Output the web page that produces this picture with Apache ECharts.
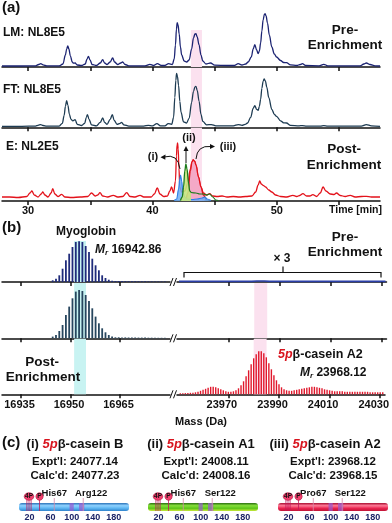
<!DOCTYPE html>
<html>
<head>
<meta charset="utf-8">
<title>β-casein enrichment: LC traces and deconvoluted spectra</title>
<script src="https://cdn.jsdelivr.net/npm/echarts@6/dist/echarts.min.js"></script>
<style>
  html, body { margin: 0; padding: 0; background: #fff; }
  #chart { width: 392px; height: 523px; }
</style>
</head>
<body>
<div id="chart"></div>
<script>
// ---------- (a) chromatograms, [time (min), intensity] ----------
const lmTrace = [[27.9,1],[29.5,1],[30.6,1.2],[30.85,2.5],[31.02,3.3],[31.2,2.2],[31.5,1.2],[32.5,1.2],[32.8,3],[33.0,12],[33.1,18],[33.19,21],[33.28,18],[33.4,11],[33.55,5],[33.65,3.8],[33.78,4],[33.95,2],[34.3,1.5],[34.6,3],[34.72,7.5],[34.85,10.7],[34.98,7],[35.15,2.5],[35.5,1.5],[35.8,4],[36.0,7.3],[36.15,4],[36.35,2.5],[36.6,5],[36.8,9],[36.95,5],[37.2,2.5],[37.45,4],[37.6,5],[37.8,2.5],[38.1,1.2],[39.4,1.2],[39.8,2.7],[40.1,1.5],[40.4,3.3],[40.7,1.5],[41.0,1.5],[41.3,3.3],[41.6,2.5],[41.75,8],[41.85,22],[41.93,38],[41.99,44.3],[42.06,42],[42.15,33],[42.25,20],[42.35,12],[42.55,6],[42.75,5],[42.95,7],[43.15,18],[43.3,29],[43.42,33],[43.5,33.3],[43.6,30],[43.75,22],[43.9,12],[44.05,6],[44.3,3],[44.67,4],[45.0,1.8],[46.0,1.5],[46.6,1.5],[46.9,3.3],[47.2,2],[47.5,3],[47.7,5],[47.95,10],[48.1,18],[48.23,22.3],[48.38,17],[48.5,13.3],[48.6,16],[48.7,24],[48.8,36],[48.9,47],[49.0,52.5],[49.06,53.3],[49.14,51],[49.25,44],[49.4,32],[49.6,20],[49.8,13],[49.98,10],[50.3,6.5],[50.55,4.5],[50.78,4.3],[51.1,2.2],[51.6,1.5],[51.9,2.5],[52.06,3.3],[52.3,1.5],[53.4,1.2],[53.78,2.7],[54.1,1.2],[56.7,1.2],[57.0,3],[57.2,4],[57.5,2.5],[57.9,1.2],[58.3,1]];
const ftTrace = [[27.9,1],[29.5,1],[30.6,1.2],[30.8,2],[31.0,2.7],[31.2,1.8],[31.5,1.2],[32.5,1.2],[32.75,4],[32.9,12],[33.0,21],[33.1,26.7],[33.2,22],[33.32,13],[33.45,8],[33.6,6.5],[33.78,7.7],[33.95,3],[34.3,1.8],[34.55,4],[34.68,10],[34.77,12.7],[34.9,8],[35.1,2.5],[35.5,1.5],[35.8,5],[36.0,9.3],[36.15,5],[36.35,3],[36.6,8],[36.77,12.7],[36.92,7],[37.15,3],[37.4,4],[37.52,5],[37.7,2.5],[38.1,1.2],[39.3,1.2],[39.67,2],[40.0,1.5],[40.35,3.7],[40.65,1.5],[41.0,1.5],[41.27,3.7],[41.55,3],[41.7,10],[41.8,30],[41.88,47],[41.94,54],[42.01,51],[42.1,42],[42.2,26],[42.3,15],[42.5,5.5],[42.74,4.3],[42.95,9],[43.15,25],[43.3,36],[43.42,40.5],[43.5,41],[43.6,37],[43.75,26],[43.9,13],[44.05,6],[44.35,2.5],[44.74,2.7],[45.1,1.5],[46.5,1.5],[46.9,2.7],[47.2,2],[47.45,3],[47.65,4.3],[47.9,10],[48.1,19],[48.23,21.7],[48.38,18],[48.5,17],[48.6,21],[48.7,28],[48.8,39],[48.9,46],[48.98,48.3],[49.08,46.5],[49.2,40],[49.35,30],[49.6,18],[49.8,13],[49.98,11],[50.3,6.5],[50.55,4.5],[50.78,4.3],[51.1,2],[51.8,1.5],[52.06,1.7],[52.4,1.2],[53.5,1.2],[53.78,1.7],[54.1,1.2],[56.8,1.2],[57.2,2.7],[57.6,1.5],[58.3,1]];
const eTrace = [[27.9,4],[28.5,4],[29.2,3.5],[29.9,4.5],[30.15,8],[30.3,10],[30.5,6],[30.8,4],[31.05,7],[31.18,9],[31.35,6],[31.6,4],[31.85,8],[31.98,12.3],[32.15,7],[32.4,4.5],[32.7,6.7],[32.95,4],[33.5,3.5],[34.2,4],[34.8,4.5],[35.1,8],[35.4,5],[35.6,6],[35.78,8.3],[36.0,5],[36.4,4],[36.85,5.7],[37.2,4],[37.6,4.5],[37.93,8.3],[38.2,4.5],[38.6,4],[39.0,5.7],[39.3,4],[39.9,4],[40.15,7],[40.39,13],[40.6,7],[40.9,4.5],[41.2,5],[41.4,10],[41.54,14],[41.7,8],[41.85,20],[41.93,45],[41.98,56],[42.02,58],[42.07,52],[42.13,33],[42.2,14],[42.35,9],[42.6,10],[42.85,18],[43.05,32],[43.18,39],[43.28,41],[43.4,39.5],[43.5,36],[43.7,24],[43.9,14],[44.1,8],[44.35,6],[44.6,7.3],[44.85,5],[45.2,4.5],[45.6,5],[46.0,4],[46.5,4.5],[47.0,4],[47.5,4.5],[48.0,5],[48.3,9],[48.5,16],[48.63,20],[48.75,17],[48.9,15.7],[49.1,14],[49.35,11],[49.6,9],[49.9,6],[50.3,4.5],[50.8,4],[51.3,5.7],[51.6,4.5],[51.85,5.5],[52.1,7.3],[52.4,5],[52.65,5],[52.9,6.3],[53.2,4.5],[53.5,8],[53.72,14],[53.95,10],[54.3,7],[54.6,6.5],[54.8,8],[55.1,5.5],[55.5,4.5],[55.9,5.7],[56.3,4],[56.8,4.5],[57.2,4.7],[57.6,4],[58.3,4]];
const peakI = [[41.75,0.5],[41.95,2],[42.1,12],[42.2,22],[42.26,26],[42.35,20],[42.45,9],[42.6,4],[42.8,2],[43.2,1.5],[43.6,2],[44.0,3],[44.2,4],[44.4,2],[44.7,0.5]];
const peakII = [[42.25,0.5],[42.4,4],[42.5,14],[42.6,30],[42.69,37],[42.78,32],[42.9,18],[43.0,10],[43.1,8.5]];
const peakIITail = [[43.1,8.5],[43.5,8],[43.8,7],[44.1,7],[44.35,6],[44.6,7],[44.85,4],[45.1,1],[45.3,0.5]];
const peakIII = [[42.7,0.5],[42.85,8],[43.05,30],[43.18,39],[43.28,41],[43.4,39.5],[43.5,36],[43.7,24],[43.9,14],[44.1,6],[44.3,1]];
const timeTicks = [30, 35, 40, 45, 50, 55];
const timeLabels = [30, 40, 50];
const pinkTime = [43.09, 43.98];

// ---------- (b) deconvoluted spectra, mass (Da) and intensity ----------
const myoMass = [16944.6,16945.6,16946.6,16947.6,16948.6,16949.6,16950.6,16951.6,16952.6,16953.6,16954.6,16955.6,16956.6,16957.6,16958.6,16959.6,16960.6,16961.6,16962.6,16963.6,16964.6,16965.6,16966.6,16967.6,16968.6,16969.6,16970.6,16971.6,16972.6,16973.6,16974.6,16975.6,16976.6,16977.6,16978.6];
const myoPre = [1.7,3.3,6.7,13.3,21.7,28.3,35,40,40.7,40,36,30,23.3,16.7,11.7,6.7,4,2.3,1.3,1,1,0.9,0.9,0.8,0.8,0.8,0.7,0.7,0.7,0.6,0.6,0.6,0.5,0.5,0.5];
const myoFt = [1.7,3.3,7.3,13.3,23.3,31.7,40,46.7,48.3,47.3,43.3,37.3,30,21.7,15,10,6,3.3,1.7,1,1,0.9,0.9,0.8,0.8,0.8,0.7,0.7,0.7,0.6,0.6,0.6,0.5,0.5,0.5];
const casMass = [23951,23952,23953,23954,23955,23956,23957,23958,23959,23960,23961,23962,23963,23964,23965,23966,23967,23968,23969,23970,23971,23972,23973,23974,23975,23976,23977,23978,23979,23980,23981,23982,23983,23984,23985,23986,23987,23988,23989,23990,23991,23992,23993,23994,23995,23996,23997,23998,23999,24000,24001,24002,24003,24004,24005,24006,24007,24008,24009,24010,24011,24012,24013,24014,24015,24016,24017,24018,24019,24020,24021,24022,24023,24024,24025,24026,24027,24028,24029,24030,24031];
const casPost = [1,1,1.2,1.2,1.5,1.5,2,2.5,3.5,4.5,5.5,6.5,7.5,7.5,7,6,5,4,3,2.5,2.5,3,4,6,9,13,18,24,30,36,40,43,43,41,37,31,25,19,14,10,7,5,4,3.5,3.5,4,4.5,5,5.5,6,6.5,7,7.5,7.5,7,6.5,6,5,4.5,4,3.5,3,3,3,3,2.5,2.5,2.5,2.5,2.5,2.5,2.5,2.5,2.5,2.5,2,2,2,2,2,2];
const casPreX3 = [[23950.5,0.6],[23979,0.6],[23981,1],[23984,1],[23986,0.6],[24031.5,0.6]];
const massTicksLeft = [16935, 16950, 16965];
const massTicksRight = [23970, 23990, 24010, 24030];
const cyanMass = [16951.1, 16954.7];
const pinkMass = [23980.0, 23985.1];

// ---------- (c) β-casein variants ----------
const variantTag = ['(i)', '(ii)', '(iii)'];
const variantName = ['B', 'A1', 'A2'];
const exptMass = ['24077.14', '24008.11', '23968.12'];
const calcMass = ['24077.23', '24008.16', '23968.15'];
const residueTicks = [20, 60, 100, 140, 180];
const proteinLength = 209;
const phosphoPos = [19, 39];
const phosphoLabel = ['4P', 'P'];
const phosphoStems = [[15, 19, 23], [39]];
const domainBands = [[96, 104], [114, 124]];
const variantPos = [67, 122];
const variantLabel = [['His67', 'Arg122'], ['His67', 'Ser122'], ['Pro67', 'Ser122']];

const FONT = '"Liberation Sans", Arial, Helvetica, sans-serif';
const chart = echarts.init(document.getElementById('chart'));

const pairs = (xs, ys) => xs.map((x, i) => [x, ys[i]]);

function txt(x, y, text, size, align, extra) {
  return {
    type: 'text', x: x, y: y, z: 60,
    style: Object.assign({
      text: text, font: 'bold ' + size + 'px ' + FONT, fill: '#111',
      align: align || 'left', verticalAlign: 'middle'
    }, extra || {})
  };
}

// grids: 0-2 panel a, 3-8 panel b (row x left/right), 9-11 panel c
const grids = [
  { left: 2, width: 378, top: 12, height: 55 },
  { left: 2, width: 378, top: 68, height: 59.3 },
  { left: 2, width: 378, top: 128, height: 73 },
  { left: 2, width: 168, top: 236, height: 46 },
  { left: 177, width: 209.5, top: 236, height: 46 },
  { left: 2, width: 168, top: 283, height: 55.3 },
  { left: 177, width: 209.5, top: 283, height: 55.3 },
  { left: 2, width: 168, top: 339, height: 55.3 },
  { left: 177, width: 209.5, top: 339, height: 55.3 },
  { left: 19, width: 111.6, top: 503, height: 8 },
  { left: 148, width: 111.6, top: 503, height: 8 },
  { left: 278, width: 111.6, top: 503, height: 8 }
];

const axisStyle = { show: true, onZero: false, lineStyle: { color: '#111', width: 1.5 } };
const tickStyle = (vals) => ({ show: true, length: 4, inside: false, customValues: vals, lineStyle: { color: '#111', width: 1.5 } });
const plain = (v) => String(v);

const xAxes = [];
for (let g = 0; g < 3; g++) {
  xAxes.push({
    gridIndex: g, type: 'value', min: 27.9, max: 58.3,
    axisLine: axisStyle, axisTick: tickStyle(timeTicks), splitLine: { show: false },
    axisLabel: { show: g === 2, customValues: timeLabels, formatter: plain, margin: 4, color: '#111', fontWeight: 'bold', fontSize: 11, fontFamily: FONT }
  });
}
for (let row = 0; row < 3; row++) {
  [[16929.24, 16980.15, massTicksLeft, [0, 3, 0, 0]], [23949.7, 24031.9, massTicksRight, [0, 13, 0, 0]]].forEach((r, side) => {
    xAxes.push({
      gridIndex: 3 + row * 2 + side, type: 'value', min: r[0], max: r[1],
      axisLine: axisStyle, axisTick: tickStyle(r[2]), splitLine: { show: false },
      axisLabel: { show: row === 2, customValues: r[2], formatter: plain, margin: 5, padding: r[3], color: '#111', fontWeight: 'bold', fontSize: 11, fontFamily: FONT }
    });
  });
}
for (let p = 0; p < 3; p++) {
  xAxes.push({
    gridIndex: 9 + p, type: 'value', min: 0, max: 212,
    axisLine: { show: false }, axisTick: { show: false }, splitLine: { show: false },
    axisLabel: { show: true, customValues: residueTicks, formatter: plain, margin: 2, color: '#1c2466', fontWeight: 'bold', fontSize: 9, fontFamily: FONT }
  });
}
const yAxes = grids.map((g, i) => ({ gridIndex: i, type: 'value', min: 0, max: i >= 9 ? 1 : g.height, show: false }));

const series = [];
function line(idx, data, color, width, extra) {
  series.push(Object.assign({
    type: 'line', xAxisIndex: idx, yAxisIndex: idx, data: data, symbol: 'none',
    smooth: 0.35, smoothMonotone: 'x', z: 3,
    lineStyle: { color: color, width: width }
  }, extra || {}));
}
function band(idx, x0, x1, y0, y1, color) {
  series.push({
    type: 'line', xAxisIndex: idx, yAxisIndex: idx, data: [], z: 1, silent: true,
    markArea: { silent: true, itemStyle: { color: color }, data: [[{ xAxis: x0, yAxis: y0 }, { xAxis: x1, yAxis: y1 }]] }
  });
}
function sticks(idx, data, color, w) {
  series.push({
    type: 'bar', xAxisIndex: idx, yAxisIndex: idx, data: data, barWidth: w, z: 3,
    itemStyle: { color: color }, silent: true
  });
}

// panel a
band(0, pinkTime[0], pinkTime[1], 0, 37, '#fbe1ef');
band(1, pinkTime[0], pinkTime[1], 0, 59.3, '#fbe1ef');
band(2, pinkTime[0], pinkTime[1], 0, 73, '#fbe1ef');
line(0, lmTrace, '#1b2372', 1.3);
line(1, ftTrace, '#1d3b52', 1.3);
line(2, eTrace, '#e3121b', 1.3);
line(2, peakIII, '#e3121b', 1.3, { areaStyle: { color: '#f3a3c2', opacity: 0.9 }, z: 4 });
line(2, peakI, '#2f7fe6', 1.2, { areaStyle: { color: '#6eaef2', opacity: 0.85 }, z: 5 });
line(2, peakII, '#1d7a1d', 1.3, { areaStyle: { color: '#c4e67e', opacity: 0.9 }, z: 6 });
line(2, peakIITail, '#1d7a1d', 1.2, { z: 6 });

// panel b
band(3, cyanMass[0], cyanMass[1], 0, 41, '#c8f3f2');
band(5, cyanMass[0], cyanMass[1], 0, 55.3, '#c8f3f2');
band(7, cyanMass[0], cyanMass[1], 0, 55.3, '#c8f3f2');
band(6, pinkMass[0], pinkMass[1], 0, 55.3, '#fbe1ef');
band(8, pinkMass[0], pinkMass[1], 0, 55.3, '#fbe1ef');
sticks(3, pairs(myoMass, myoPre), '#1f2b7a', 1.8);
sticks(5, pairs(myoMass, myoFt), '#27465e', 1.8);
sticks(8, pairs(casMass, casPost), '#e0182c', 1.4);
line(4, casPreX3, '#2a3fa8', 1.6, { smooth: false });

// panel c
const barColors = [
  ['#2b72b8', '#8ed2ff', '#5bb4f0', '#2f82cc'],
  ['#2a6e10', '#86e03a', '#5cc41a', '#c9e83a'],
  ['#a80e30', '#ff7a96', '#e8244f', '#c01436']
];
for (let p = 0; p < 3; p++) {
  const idx = 9 + p;
  const cols = barColors[p];
  series.push({
    type: 'custom', xAxisIndex: idx, yAxisIndex: idx, clip: false, z: 3,
    data: [[0, proteinLength]],
    renderItem: (params, api) => {
      const a = api.coord([api.value(0), 1]);
      const b = api.coord([api.value(1), 0]);
      return {
        type: 'rect', shape: { x: a[0], y: a[1], width: b[0] - a[0], height: b[1] - a[1], r: 3 },
        style: { fill: new echarts.graphic.LinearGradient(0, 0, 0, 1, cols.map((c, i) => ({ offset: i / (cols.length - 1), color: c }))) }
      };
    }
  });
  series.push({
    type: 'custom', xAxisIndex: idx, yAxisIndex: idx, clip: false, z: 4,
    data: domainBands,
    renderItem: (params, api) => {
      const a = api.coord([api.value(0), 1]);
      const b = api.coord([api.value(1), 0]);
      return {
        type: 'rect', shape: { x: a[0], y: a[1], width: b[0] - a[0], height: b[1] - a[1] },
        style: { fill: 'rgba(150,90,210,0.7)' }
      };
    }
  });
  series.push({
    type: 'custom', xAxisIndex: idx, yAxisIndex: idx, clip: false, z: 5,
    data: variantPos.map(v => [v]),
    renderItem: (params, api) => {
      const top = api.coord([api.value(0), 1]);
      const bot = api.coord([api.value(0), 0]);
      const shift = params.dataIndex === 1 ? 8 : 0;
      return {
        type: 'group', children: [
          { type: 'line', shape: { x1: top[0], y1: top[1] - 5, x2: bot[0], y2: bot[1] }, style: { stroke: '#d78aa8', lineWidth: 0.8 } },
          { type: 'text', x: top[0] + shift, y: top[1] - 10, style: { text: variantLabel[p][params.dataIndex], font: 'bold 9.5px ' + FONT, fill: '#111', align: 'center', verticalAlign: 'middle' } }
        ]
      };
    }
  });
  series.push({
    type: 'custom', xAxisIndex: idx, yAxisIndex: idx, clip: false, z: 6,
    data: phosphoPos.map(v => [v]),
    renderItem: (params, api) => {
      const i = params.dataIndex;
      const c = api.coord([api.value(0), 1]);
      const kids = phosphoStems[i].map(s => {
        const q = api.coord([s, 1]);
        const q0 = api.coord([s, 0]);
        return { type: 'line', shape: { x1: q[0], y1: q[1] - 3, x2: q0[0], y2: q0[1] }, style: { stroke: '#c2185b', lineWidth: 0.8 } };
      });
      const rx = phosphoLabel[i].length > 1 ? 4.8 : 3.6;
      kids.push({ type: 'ellipse', shape: { cx: c[0], cy: c[1] - 6.5, rx: rx, ry: 3.8 }, style: { fill: '#f0406e', stroke: '#b0103c', lineWidth: 0.6 } });
      kids.push({ type: 'text', x: c[0], y: c[1] - 6.4, style: { text: phosphoLabel[i], font: 'bold 6.5px ' + FONT, fill: '#111', align: 'center', verticalAlign: 'middle' } });
      return { type: 'group', children: kids };
    }
  });
}

// annotations
const graphics = [
  txt(2, 8, '(a)', 15),
  txt(3, 33, 'LM: NL8E5', 12),
  txt(345, 30, 'Pre-', 13.5, 'center'),
  txt(345, 45, 'Enrichment', 13.5, 'center'),
  txt(3, 90, 'FT: NL8E5', 12),
  txt(6, 147, 'E: NL2E5', 12),
  txt(344, 149, 'Post-', 13.5, 'center'),
  txt(344, 165, 'Enrichment', 13.5, 'center'),
  txt(153, 157, '(i)', 11, 'center'),
  txt(189, 138, '(ii)', 11, 'center'),
  txt(228, 147, '(iii)', 11, 'center'),
  txt(382, 210, 'Time [min]', 10.5, 'right'),
  { type: 'bezierCurve', z: 60, shape: { x1: 180, y1: 169, cpx1: 178, cpy1: 153, x2: 164, y2: 157 }, style: { stroke: '#111', lineWidth: 1, fill: null } },
  { type: 'polygon', z: 60, shape: { points: [[160.5, 157.3], [165.5, 154.6], [165.3, 159.8]] }, style: { fill: '#111' } },
  { type: 'line', z: 60, shape: { x1: 186, y1: 163, x2: 186, y2: 150 }, style: { stroke: '#111', lineWidth: 1 } },
  { type: 'polygon', z: 60, shape: { points: [[186, 146], [183.5, 151], [188.5, 151]] }, style: { fill: '#111' } },
  { type: 'bezierCurve', z: 60, shape: { x1: 196, y1: 159, cpx1: 197, cpy1: 145, x2: 211, y2: 146.5 }, style: { stroke: '#111', lineWidth: 1, fill: null } },
  { type: 'polygon', z: 60, shape: { points: [[215, 146.5], [210, 144], [210, 149]] }, style: { fill: '#111' } },

  txt(2, 228, '(b)', 15),
  txt(86, 232, 'Myoglobin', 12, 'center'),
  txt(95, 250, '{m|M}{s|r}{n| 16942.86}', 12, 'left', {
    rich: {
      m: { fontStyle: 'italic', fontWeight: 'bold', fontSize: 12, fontFamily: FONT, lineHeight: 14 },
      s: { fontStyle: 'italic', fontWeight: 'bold', fontSize: 8, fontFamily: FONT, verticalAlign: 'bottom', lineHeight: 14 },
      n: { fontWeight: 'bold', fontSize: 12, fontFamily: FONT, lineHeight: 14 }
    }
  }),
  txt(345, 237, 'Pre-', 13.5, 'center'),
  txt(345, 252, 'Enrichment', 13.5, 'center'),
  txt(282, 259, '× 3', 12, 'center'),
  { type: 'polyline', z: 60, shape: { points: [[184, 277.5], [184, 272.5], [381, 272.5], [381, 277.5]] }, style: { stroke: '#111', lineWidth: 1.2, fill: null } },
  { type: 'line', z: 60, shape: { x1: 283, y1: 272.5, x2: 283, y2: 266.5 }, style: { stroke: '#111', lineWidth: 1.2 } },
  txt(42, 362, 'Post-', 13.5, 'center'),
  txt(43, 377, 'Enrichment', 13.5, 'center'),
  txt(278, 355, '{r|5p}{k|β-casein A2}', 12.5, 'left', {
    rich: {
      r: { fontStyle: 'italic', fontWeight: 'bold', fontSize: 12.5, fontFamily: FONT, fill: '#d8141e' },
      k: { fontWeight: 'bold', fontSize: 12.5, fontFamily: FONT, fill: '#111' }
    }
  }),
  txt(300, 373, '{m|M}{s|r}{n| 23968.12}', 12, 'left', {
    rich: {
      m: { fontStyle: 'italic', fontWeight: 'bold', fontSize: 12, fontFamily: FONT, lineHeight: 14 },
      s: { fontStyle: 'italic', fontWeight: 'bold', fontSize: 8, fontFamily: FONT, verticalAlign: 'bottom', lineHeight: 14 },
      n: { fontWeight: 'bold', fontSize: 12, fontFamily: FONT, lineHeight: 14 }
    }
  }),
  txt(201, 422, 'Mass (Da)', 11, 'center'),
  txt(2, 443, '(c)', 15)
];
// axis breaks
[282, 338.3, 394.3].forEach(y => {
  graphics.push({ type: 'line', z: 60, shape: { x1: 170, y1: y + 4, x2: 173, y2: y - 4 }, style: { stroke: '#111', lineWidth: 1 } });
  graphics.push({ type: 'line', z: 60, shape: { x1: 173.5, y1: y + 4, x2: 176.5, y2: y - 4 }, style: { stroke: '#111', lineWidth: 1 } });
});
const cCenters = [75, 201, 325];
const cNums = [75, 206, 333];
for (let p = 0; p < 3; p++) {
  graphics.push(txt(cCenters[p], 444, '{k|' + variantTag[p] + ' }{r|5p}{k|β-casein ' + variantName[p] + '}', 12.5, 'center', {
    rich: {
      r: { fontStyle: 'italic', fontWeight: 'bold', fontSize: 13, fontFamily: FONT, fill: '#d8141e' },
      k: { fontWeight: 'bold', fontSize: 13, fontFamily: FONT, fill: '#111' }
    }
  }));
  graphics.push(txt(cNums[p], 462, "Expt'l: " + exptMass[p], 11.5, 'center'));
  graphics.push(txt(cNums[p], 476, "Calc'd: " + calcMass[p], 11.5, 'center'));
}

chart.setOption({
  animation: false,
  backgroundColor: '#fff',
  grid: grids,
  xAxis: xAxes,
  yAxis: yAxes,
  series: series,
  graphic: { elements: graphics }
});
window.addEventListener('resize', () => chart.resize());
</script>
</body>
</html>
